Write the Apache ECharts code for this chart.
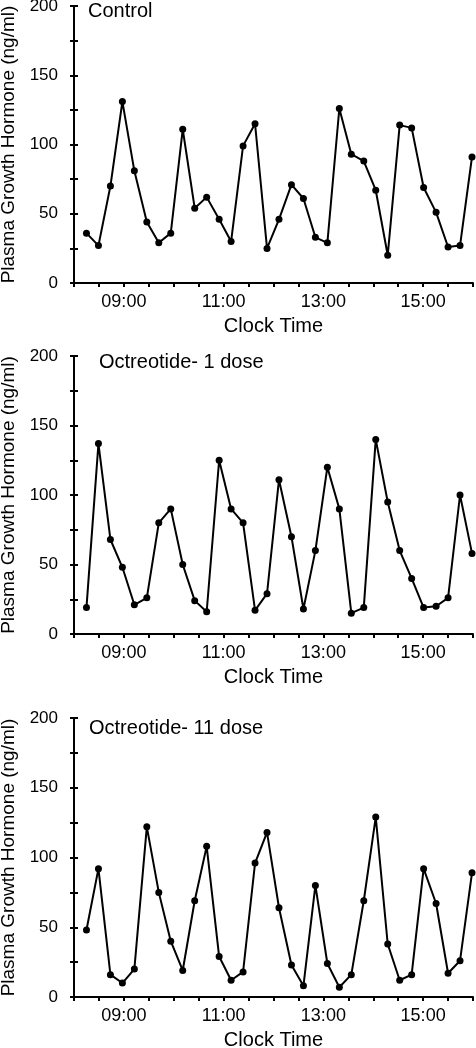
<!DOCTYPE html>
<html>
<head>
<meta charset="utf-8">
<script src="https://cdn.jsdelivr.net/npm/echarts@6/dist/echarts.min.js"></script>
<style>
html,body{margin:0;padding:0;background:#fff;}
#chart{width:476px;height:1048px;}
</style>
</head>
<body>
<div id="chart"></div>
<script>
// Sample times (decimal clock hours)
const sampleHours = [8.25, 8.49, 8.73, 8.97, 9.21, 9.46, 9.70, 9.94, 10.18, 10.42, 10.66,
  10.91, 11.15, 11.39, 11.63, 11.87, 12.11, 12.36, 12.60, 12.84, 13.08, 13.32,
  13.56, 13.81, 14.05, 14.29, 14.53, 14.77, 15.01, 15.26, 15.50, 15.74, 15.98];

const controlGH = [36, 27, 70, 131, 81, 44, 29, 36, 111, 54, 62, 46, 30, 99, 115, 25, 46, 71, 61,
  33, 29, 126, 93, 88, 67, 20, 114, 112, 69, 51, 26, 27, 91];
const octreotide1GH = [19, 137, 68, 48, 21, 26, 80, 90, 50, 24, 16, 125, 90, 80, 17, 29, 111, 70,
  18, 60, 120, 90, 15, 19, 140, 95, 60, 40, 19, 20, 26, 100, 58];
const octreotide11GH = [48, 92, 16, 10, 20, 122, 75, 40, 19, 69, 108, 29, 12, 18, 96, 118, 64, 23,
  8, 80, 24, 7, 16, 69, 129, 38, 12, 16, 92, 67, 17, 26, 89];

const panelTitles = ['Control', 'Octreotide- 1 dose', 'Octreotide- 11 dose'];
const xLabelHours = [9, 11, 13, 15];
const xLabelTexts = ['09:00', '11:00', '13:00', '15:00'];
const yLabelValues = [0, 50, 100, 150, 200];
const xAxisName = 'Clock Time';
const yAxisName = 'Plasma Growth Hormone (ng/ml)';

const FONT = 'Arial, "Liberation Sans", sans-serif';
const grids = [
  {left: 74, right: 3, top: 6, height: 277, outerBoundsMode: 'none', containLabel: false},
  {left: 74, right: 3, top: 356, height: 278, outerBoundsMode: 'none', containLabel: false},
  {left: 74, right: 3, top: 718, height: 279, outerBoundsMode: 'none', containLabel: false}
];
const titlePos = [[88, 11], [99, 362], [89, 728]];
const seriesData = [controlGH, octreotide1GH, octreotide11GH];

const xAxes = [], yAxes = [], series = [], graphics = [];
grids.forEach((g, i) => {
  xAxes.push({
    type: 'value', gridIndex: i, min: 8, max: 16, interval: 0.5,
    name: xAxisName, nameLocation: 'middle', nameGap: 33,
    nameTextStyle: {fontFamily: FONT, fontSize: 20, color: '#000'},
    axisLine: {lineStyle: {color: '#000', width: 2}},
    axisTick: {inside: false, length: 4, lineStyle: {color: '#000', width: 2}},
    axisLabel: {
      fontFamily: FONT, fontSize: 18, color: '#000', margin: 10,
      formatter: v => { const k = xLabelHours.indexOf(v); return k >= 0 ? xLabelTexts[k] : ''; }
    },
    splitLine: {show: false}
  });
  yAxes.push({
    type: 'value', gridIndex: i, min: 0, max: 200, interval: 25,
    name: yAxisName, nameLocation: 'middle', nameGap: 54,
    nameTextStyle: {fontFamily: FONT, fontSize: 19, color: '#000'},
    axisLine: {lineStyle: {color: '#000', width: 2}},
    axisTick: {inside: false, length: 4, lineStyle: {color: '#000', width: 2}},
    axisLabel: {
      fontFamily: FONT, fontSize: 17, color: '#000', margin: 16,
      formatter: v => yLabelValues.indexOf(v) >= 0 ? String(v) : ''
    },
    splitLine: {show: false}
  });
  // overlay axis providing the inner half of the crossing ticks
  yAxes.push({
    type: 'value', gridIndex: i, min: 0, max: 200, interval: 25, position: 'left',
    axisLine: {show: false},
    axisTick: {inside: true, length: 4, lineStyle: {color: '#000', width: 2}},
    axisLabel: {show: false},
    splitLine: {show: false}
  });
  series.push({
    type: 'line', xAxisIndex: i, yAxisIndex: i * 2,
    data: sampleHours.map((h, k) => [h, seriesData[i][k]]),
    symbol: 'circle', symbolSize: 7,
    lineStyle: {color: '#000', width: 2},
    itemStyle: {color: '#000'},
    animation: false
  });
  graphics.push({
    type: 'text', left: titlePos[i][0], top: titlePos[i][1] - 10,
    style: {text: panelTitles[i], fontFamily: FONT, fontSize: 20, fill: '#000'}
  });
});

const chart = echarts.init(document.getElementById('chart'), null, {renderer: 'canvas'});
chart.setOption({
  backgroundColor: '#fff',
  animation: false,
  grid: grids,
  xAxis: xAxes,
  yAxis: yAxes,
  series: series,
  graphic: graphics
});
</script>
</body>
</html>
